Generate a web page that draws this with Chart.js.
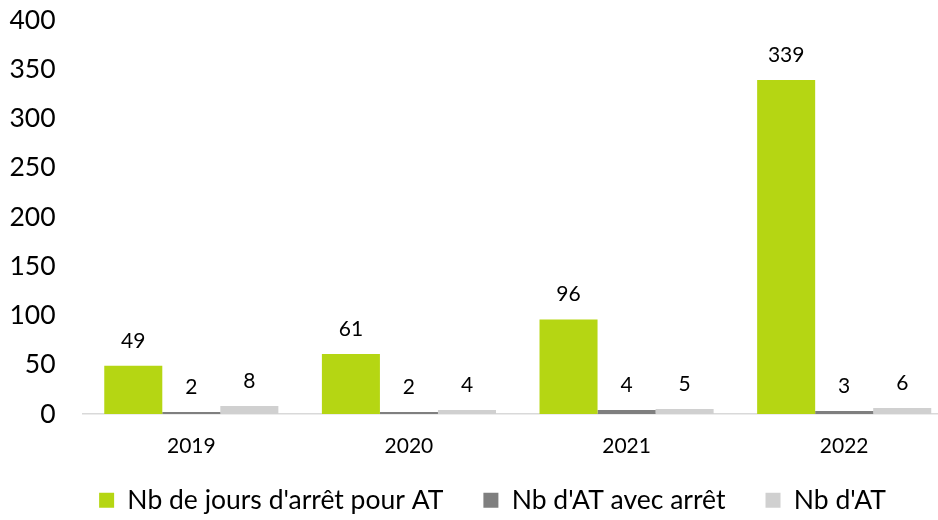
<!DOCTYPE html>
<html>
<head>
<meta charset="utf-8">
<script src="https://cdn.jsdelivr.net/npm/chart.js@4/dist/chart.umd.min.js"></script>
<style>
    html, body { margin: 0; padding: 0; background: #fff; overflow: hidden; }
    #wrap { width: 953px; height: 520px; }
</style>
</head>
<body>
<div id="wrap"><canvas id="atChart"></canvas></div>
<script>
const years = ['2019', '2020', '2021', '2022'];
const joursArret = [49, 61, 96, 339];
const atAvecArret = [2, 2, 4, 3];
const nbAT = [8, 4, 5, 6];
const yTicks = [0, 50, 100, 150, 200, 250, 300, 350, 400];

const FONT = 'Lato, "Open Sans", sans-serif';

// value written above each bar
const barValues = {
    id: 'barValues',
    afterDatasetsDraw(chart) {
        const ctx = chart.ctx;
        ctx.save();
        ctx.font = '21px ' + FONT;
        ctx.fillStyle = '#000';
        ctx.textAlign = 'center';
        ctx.textBaseline = 'middle';
        chart.data.datasets.forEach((ds, i) => {
            chart.getDatasetMeta(i).data.forEach((bar, j) => {
                ctx.fillText(String(ds.data[j]), bar.x, bar.y - 25);
            });
        });
        ctx.restore();
    }
};

// move the legend a bit right, and start its box higher
const legendShift = {
    id: 'legendShift',
    afterLayout(chart) {
        const lg = chart.legend;
        lg.left += 16;
        lg.right += 16;
        lg.top -= 17;
    }
};

new Chart(document.getElementById('atChart'), {
    type: 'bar',
    data: {
        labels: years,
        datasets: [
            { label: "Nb de jours d'arrêt pour AT", data: joursArret, backgroundColor: '#b5d613' },
            { label: "Nb d'AT avec arrêt", data: atAvecArret, backgroundColor: '#7f7f7f' },
            { label: "Nb d'AT", data: nbAT, backgroundColor: '#d0d0d0' },
        ]
    },
    options: {
        responsive: true,
        maintainAspectRatio: false,
        animation: false,
        datasets: {
            bar: { categoryPercentage: 0.8, barPercentage: 1.0 }
        },
        layout: {
            padding: 0
        },
        scales: {
            x: {
                grid: { display: false, drawTicks: false },
                border: { display: true, color: '#d9d9d9', width: 1.5 },
                ticks: { color: '#000', font: { family: FONT, size: 21 }, padding: 20 },
                afterFit(scale) {
                    scale.height = 50;
                    scale.paddingLeft = 0;
                    scale.paddingRight = 0;
                }
            },
            y: {
                min: 0,
                max: 400,
                afterBuildTicks(scale) {
                    scale.ticks = yTicks.map(v => ({ value: v }));
                },
                grid: { display: false, drawTicks: false },
                border: { display: false },
                ticks: { color: '#000', font: { family: FONT, size: 26.5 }, padding: 27 },
                afterFit(scale) {
                    scale.width = 82.5;
                    scale.paddingTop = 20;
                    scale.paddingBottom = 0;
                }
            }
        },
        plugins: {
            tooltip: { enabled: false },
            legend: {
                position: 'bottom',
                maxHeight: 56,
                labels: {
                    color: '#000',
                    font: { family: FONT, size: 26.5 },
                    boxWidth: 15,
                    boxHeight: 15,
                    padding: 40
                }
            }
        }
    },
    plugins: [barValues, legendShift]
});
</script>
</body>
</html>
